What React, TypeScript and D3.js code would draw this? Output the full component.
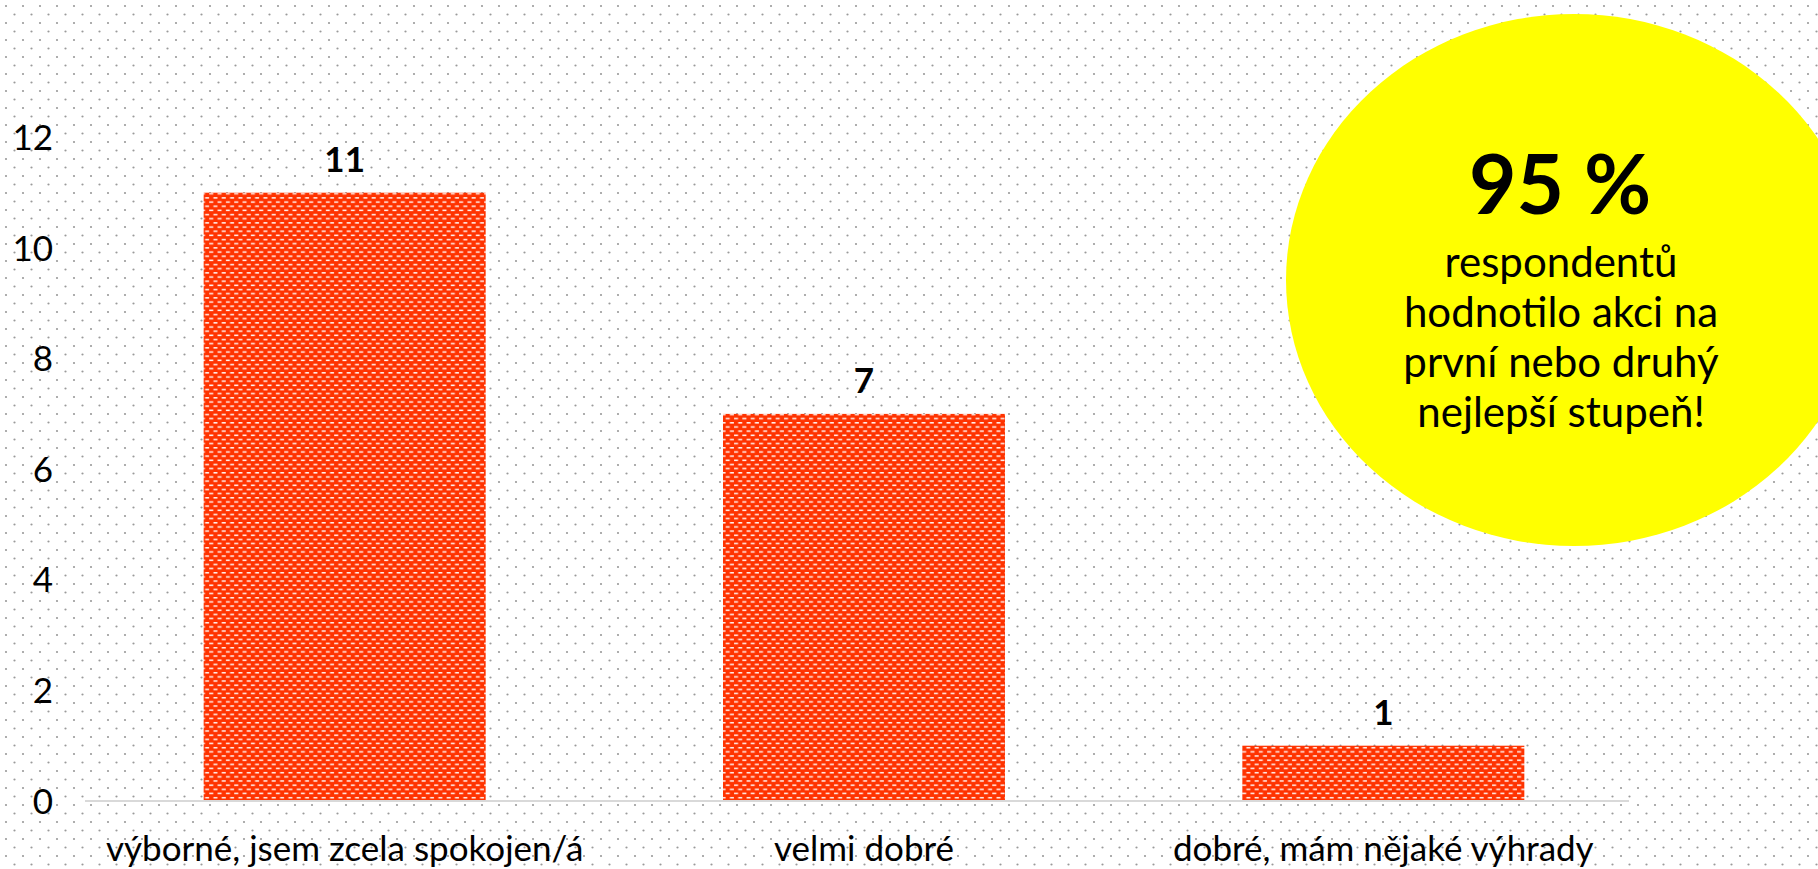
import React from "react";
import * as d3 from "d3";

const categories = ["výborné, jsem zcela spokojen/á", "velmi dobré", "dobré, mám nějaké výhrady"];
const counts = [11, 7, 1];
const yTicks = [0, 2, 4, 6, 8, 10, 12];
const calloutBig = "95 %";
const calloutLines = ["respondentů", "hodnotilo akci na", "první nebo druhý", "nejlepší stupeň!"];

const W = 1818;
const H = 869;
const FONT = "Lato, 'Open Sans', sans-serif";

export default function App() {
  const x = d3.scaleBand<string>().domain(categories).range([85, 1643]).paddingInner(0.457).paddingOuter(0.2285);
  const y = d3.scaleLinear().domain([0, 12]).range([801, 137.4]);
  const base = y(0);

  return (
    <svg
      width={W}
      height={H}
      style={{ position: "fixed", left: 0, top: 0, display: "block", background: "#fff" }}
      fontFamily={FONT}
    >
      <defs>
        <pattern id="dots" patternUnits="userSpaceOnUse" width={17} height={17}>
          <circle cx={6} cy={6} r={1.1} fill="#9a9a9a" />
          <circle cx={14.5} cy={14.5} r={1.1} fill="#9a9a9a" />
        </pattern>
        <pattern id="weave" patternUnits="userSpaceOnUse" width={8.33} height={8.33}>
          <rect width={8.33} height={8.33} fill="#ff3300" />
          <rect x={1} y={1.4} width={4} height={1.5} fill="#fff" opacity={0.95} />
          <rect x={5.17} y={5.57} width={4} height={1.5} fill="#fff" opacity={0.95} />
          <rect x={-3.16} y={5.57} width={4} height={1.5} fill="#fff" opacity={0.95} />
        </pattern>
      </defs>

      <rect width={W} height={H} fill="#fff" />
      <rect width={W} height={H} fill="url(#dots)" />

      {/* y tick labels */}
      {yTicks.map((t) => (
        <text key={t} x={53} y={y(t)} dy="0.36em" textAnchor="end" fontSize={35} fill="#000">
          {t}
        </text>
      ))}

      {/* bars */}
      {categories.map((c, i) => (
        <rect
          key={c}
          x={x(c)}
          y={y(counts[i])}
          width={x.bandwidth()}
          height={base - y(counts[i])}
          fill="url(#weave)"
        />
      ))}

      {/* baseline */}
      <line x1={85} x2={1629} y1={base} y2={base} stroke="#d9d9d9" strokeWidth={2} />

      {/* value labels */}
      {categories.map((c, i) => (
        <text
          key={c}
          x={(x(c) ?? 0) + x.bandwidth() / 2}
          y={y(counts[i]) - 21}
          textAnchor="middle"
          fontSize={35}
          fontWeight="bold"
          fill="#000"
        >
          {counts[i]}
        </text>
      ))}

      {/* category labels */}
      {categories.map((c, i) => (
        <text
          key={c}
          x={(x(c) ?? 0) + x.bandwidth() / 2}
          y={861}
          textAnchor="middle"
          fontSize={35}
          fill="#000"
        >
          {c}
        </text>
      ))}

      {/* callout */}
      <ellipse cx={1574} cy={280} rx={288} ry={266} fill="#ffff00" />
      <text x={1560} y={214} textAnchor="middle" fontSize={82} fontWeight="bold" fill="#000">
        {calloutBig}
      </text>
      {calloutLines.map((l, i) => (
        <text key={l} x={1561} y={277 + i * 50} textAnchor="middle" fontSize={42} fill="#000">
          {l}
        </text>
      ))}
    </svg>
  );
}
